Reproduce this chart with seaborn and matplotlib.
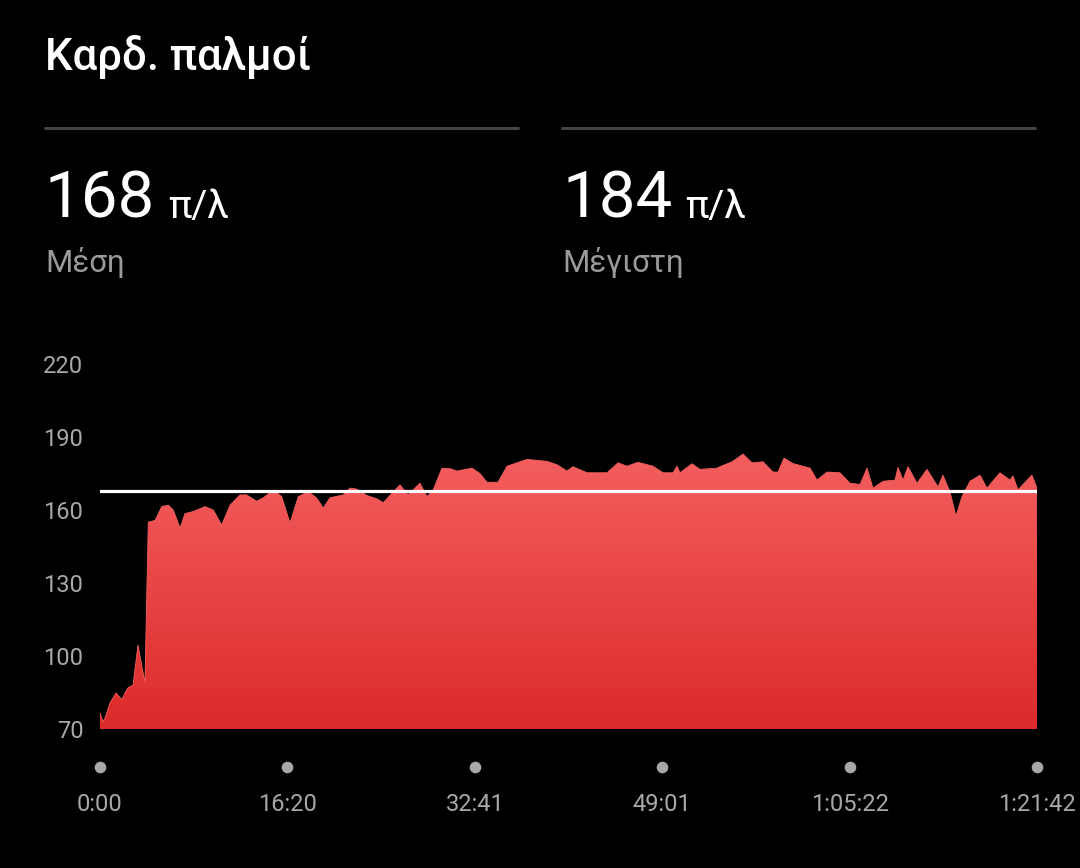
import numpy as np
import pandas as pd
import seaborn as sns
import matplotlib.pyplot as plt
from matplotlib.colors import LinearSegmentedColormap
from matplotlib.transforms import blended_transform_factory

# heart rate trace, minutes vs bpm
minutes = [0.0, 0.26, 0.44, 0.87, 1.40, 1.92, 2.18, 2.44, 2.88, 3.31, 3.92, 4.21,
           4.80, 5.38, 5.96, 6.39, 6.98, 7.41, 8.14, 9.16, 9.88, 10.61, 11.34,
           12.21, 12.79, 13.66, 14.24, 15.11, 15.84, 16.57, 17.29, 18.16, 18.88,
           19.47, 20.05, 21.21, 21.80, 22.38, 23.25, 24.13, 24.70, 25.29, 26.16,
           26.86, 27.90, 28.51, 29.03, 29.82, 30.52, 31.13, 31.65, 32.44, 33.13,
           33.74, 34.70, 35.49, 37.23, 38.98, 39.85, 40.72, 41.24, 42.46, 44.21,
           45.17, 45.95, 46.91, 48.22, 49.09, 49.96, 50.31, 50.57, 51.62, 52.32,
           53.80, 54.06, 55.11, 56.07, 56.85, 57.81, 58.68, 59.12, 59.64, 60.42,
           61.91, 62.52, 63.39, 64.52, 65.39, 66.27, 66.88, 67.40, 68.27, 69.32,
           69.58, 70.02, 70.45, 71.24, 72.11, 73.07, 73.50, 74.11, 74.64, 75.16,
           75.86, 76.73, 77.34, 78.47, 79.35, 79.61, 80.04, 81.26, 81.70]
bpm = [76.6, 73.0, 74.5, 80.7, 84.8, 82.0, 84.8, 86.9, 88.0, 104.5, 89.0, 155.0,
       155.7, 161.4, 162.0, 160.0, 152.6, 158.5, 159.4, 161.4, 160.0, 153.8, 162.0,
       166.2, 166.2, 163.6, 165.0, 168.2, 165.5, 154.7, 165.5, 167.5, 165.0,
       160.8, 165.0, 166.2, 169.0, 168.6, 166.0, 164.6, 163.0, 166.0, 170.3,
       166.2, 171.0, 165.5, 168.0, 177.2, 177.0, 176.0, 176.5, 177.2, 175.0,
       171.4, 171.4, 178.0, 180.8, 180.0, 178.6, 176.0, 177.8, 175.3, 175.3,
       179.4, 178.0, 179.6, 178.0, 175.3, 175.3, 178.0, 175.3, 179.0, 176.7,
       177.2, 177.8, 179.8, 183.0, 179.4, 179.8, 175.6, 175.6, 181.3, 179.1,
       177.2, 172.3, 175.6, 175.3, 171.0, 170.5, 177.2, 169.0, 171.8, 172.3,
       177.5, 172.3, 177.8, 171.0, 176.7, 169.5, 174.3, 167.5, 157.5, 165.5,
       171.8, 174.3, 169.0, 175.3, 172.3, 174.0, 168.3, 174.3, 169.0]

avg_bpm = 168
max_bpm = 184
y_ticks = [70, 100, 130, 160, 190, 220]
x_ticks = [0.0, 16.34, 32.68, 49.02, 65.36, 81.70]
x_labels = ["0:00", "16:20", "32:41", "49:01", "1:05:22", "1:21:42"]

df = pd.DataFrame({"min": minutes, "bpm": bpm})

sns.set_theme(style="dark")
plt.rcParams["font.family"] = ["Roboto", "DejaVu Sans"]

fig = plt.figure(figsize=(10.8, 8.68), dpi=100, facecolor="black")
W, H = 1080, 868

# header
fig.text(45 / W, 1 - 70 / H, "Καρδ. παλμοί", color="white", fontsize=31.5,
         fontweight="medium", va="baseline")
for x0, x1 in [(45, 518), (562, 1035)]:
    fig.add_artist(plt.Line2D([x0 / W, x1 / W], [1 - 128 / H] * 2,
                              color="#444444", lw=2.2))
for x0, val, lab in [(45, avg_bpm, "Μέση"), (562, max_bpm, "Μέγιστη")]:
    t = fig.text(x0 / W, 1 - 218 / H, str(val), color="white", fontsize=47,
                 va="baseline")
    fig.canvas.draw()
    bb = t.get_window_extent()
    fig.text((bb.x1 + 13) / W, 1 - 218 / H, "π/λ", color="white",
             fontsize=28, va="baseline")
    fig.text(x0 / W, 1 - 272 / H, lab, color="#9a9a9a", fontsize=22.5,
             va="baseline")

ax = fig.add_axes([100 / W, 1 - 729 / H, 937 / W, 365 / H])
ax.set_facecolor("black")
ax.set_xlim(0, minutes[-1])
ax.set_ylim(70, 220)

# gradient area
poly = ax.fill_between(df["min"], df["bpm"], 70, color="none", lw=0)
cmap = LinearSegmentedColormap.from_list("hr", ["#dc2a2a", "#f45f5f"])
grad = np.linspace(0, 1, 256).reshape(-1, 1)
img = ax.imshow(grad, cmap=cmap, aspect="auto", origin="lower",
                extent=[0, minutes[-1], 70, 184], zorder=1)
img.set_clip_path(poly.get_paths()[0], transform=ax.transData)
sns.lineplot(data=df, x="min", y="bpm", ax=ax, color="#f45f5f", lw=0.6,
             zorder=2)

ax.axhline(avg_bpm, color="white", lw=2.3, zorder=3)

ax.set_yticks(y_ticks)
ax.set_yticklabels([str(v) for v in y_ticks])
ax.set_xticks(x_ticks)
ax.set_xticklabels(x_labels)
ax.tick_params(axis="y", colors="#a8a8a8", labelsize=17, length=0, pad=12)
ax.tick_params(axis="x", colors="#a8a8a8", labelsize=17, length=0, pad=46)
ax.set_xlabel("")
ax.set_ylabel("")
ax.grid(False)
for s in ax.spines.values():
    s.set_visible(False)

# dots under x ticks
tr = blended_transform_factory(ax.transData, ax.transAxes)
ax.scatter(x_ticks, [-38 / 365] * len(x_ticks), s=70, color="#a8a8a8",
           transform=tr, clip_on=False, lw=0)

fig.savefig("out.png", dpi=100, facecolor="black")
